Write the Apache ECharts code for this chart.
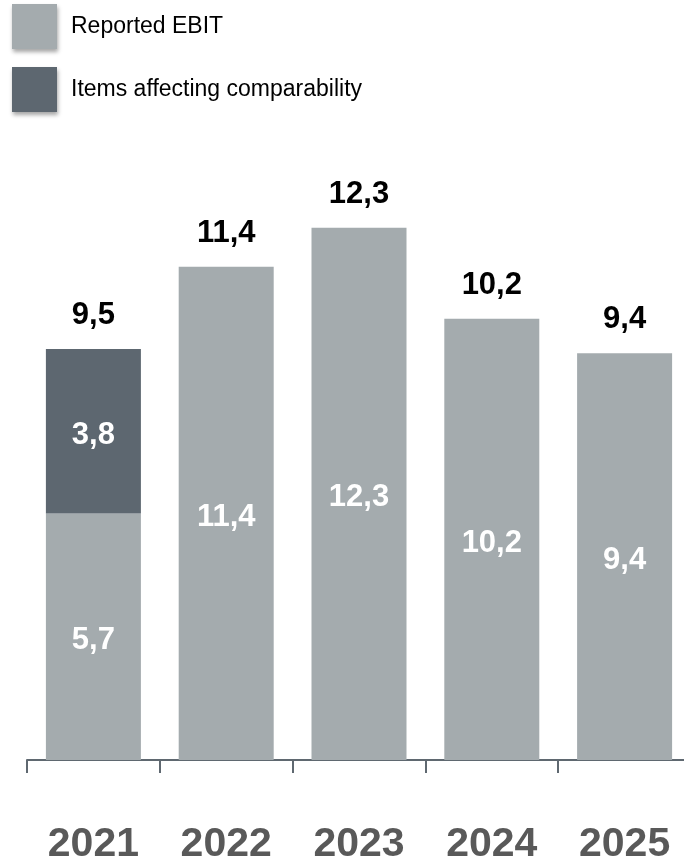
<!DOCTYPE html>
<html>
<head>
<meta charset="utf-8">
<script src="https://cdn.jsdelivr.net/npm/echarts@6/dist/echarts.min.js"></script>
<style>
  html, body { margin: 0; padding: 0; background: #ffffff; }
  #chart { width: 684px; height: 864px; }
</style>
</head>
<body>
<div id="chart"></div>
<script>
// EBIT by year (billions), with the 2021 items affecting comparability stacked on top
const years = ['2021', '2022', '2023', '2024', '2025'];
const reportedEbit = [5.7, 11.4, 12.3, 10.2, 9.4];
const itemsAffecting = [3.8, null, null, null, null];
const totals = [9.5, 11.4, 12.3, 10.2, 9.4];

const seriesNames = ['Reported EBIT', 'Items affecting comparability'];
const colors = { reported: '#A4ABAE', items: '#5D6770', axis: '#5F6870' };

const fmt = v => String(v).replace('.', ',');

const chart = echarts.init(document.getElementById('chart'), null, { renderer: 'canvas' });

chart.setOption({
  animation: false,
  backgroundColor: '#ffffff',
  textStyle: { fontFamily: 'Liberation Sans, Arial, sans-serif' },
  legend: {
    orient: 'vertical',
    left: 12,
    top: 4,
    padding: 0,
    itemWidth: 45,
    itemHeight: 45,
    itemGap: 18,
    icon: 'rect',
    data: seriesNames,
    selectedMode: false,
    itemStyle: {
      shadowBlur: 4,
      shadowColor: 'rgba(0,0,0,0.35)',
      shadowOffsetX: 1,
      shadowOffsetY: 3
    },
    textStyle: {
      fontSize: 23,
      color: '#000000',
      padding: [4, 0, 0, 9]
    }
  },
  grid: { left: 27, width: 664, top: 154.3, height: 605.7, outerBoundsMode: 'none', containLabel: false },
  xAxis: {
    type: 'category',
    data: years,
    axisLine: { lineStyle: { color: colors.axis, width: 2 } },
    axisTick: { show: true, length: 13, lineStyle: { color: colors.axis, width: 2 } },
    axisLabel: {
      interval: 0,
      margin: 64,
      fontSize: 41,
      fontWeight: 'bold',
      color: '#595959'
    }
  },
  yAxis: {
    type: 'value',
    min: 0,
    max: 14,
    show: false,
    splitLine: { show: false }
  },
  series: [
    {
      name: seriesNames[0],
      type: 'bar',
      stack: 'ebit',
      barWidth: 95,
      data: reportedEbit,
      itemStyle: { color: colors.reported },
      label: {
        show: true,
        position: 'inside',
        offset: [0, 4],
        color: '#ffffff',
        fontSize: 31,
        fontWeight: 'bold',
        formatter: p => fmt(p.value)
      }
    },
    {
      name: seriesNames[1],
      type: 'bar',
      stack: 'ebit',
      barWidth: 95,
      data: itemsAffecting,
      itemStyle: { color: colors.items },
      label: {
        show: true,
        position: 'inside',
        offset: [0, 4],
        color: '#ffffff',
        fontSize: 31,
        fontWeight: 'bold',
        formatter: p => fmt(p.value)
      }
    },
    {
      name: 'Total',
      type: 'bar',
      barWidth: 95,
      barGap: '-100%',
      data: totals,
      z: 1,
      itemStyle: { color: 'rgba(0,0,0,0)' },
      label: {
        show: true,
        position: 'top',
        distance: 18,
        color: '#000000',
        fontSize: 31,
        fontWeight: 'bold',
        formatter: p => fmt(p.value)
      }
    }
  ]
});
</script>
</body>
</html>
